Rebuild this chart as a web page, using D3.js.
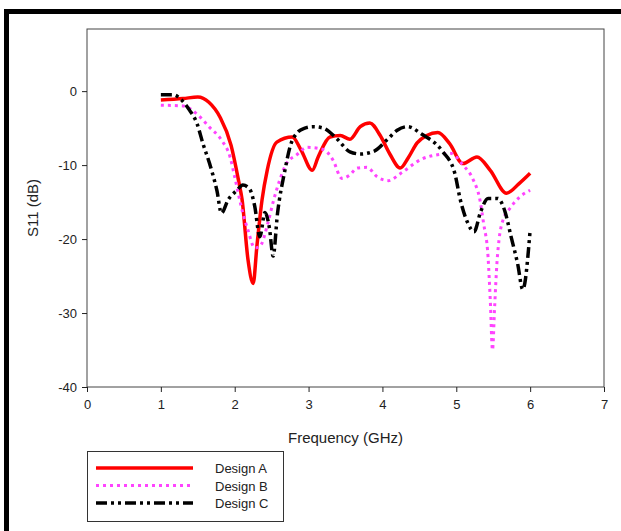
<!DOCTYPE html>
<html lang="en">
<head>
  <meta charset="UTF-8">
  <script src="https://cdn.jsdelivr.net/npm/d3@7"></script>
  <title>S11</title>
  <style>
    body { margin: 0; background: #fff; }
    text { font-family: "Liberation Sans", Arial, sans-serif; fill: #222; }
    path.series { fill: none; }
  </style>
</head>
<body>
  <script>
    // frequency (GHz) and S11 (dB)
    const freqA = [1.0, 1.3, 1.5, 1.65, 1.8, 1.95, 2.05, 2.1, 2.18, 2.25, 2.3, 2.37, 2.44, 2.57, 2.78, 2.9, 3.05, 3.13, 3.29, 3.43, 3.56, 3.7, 3.83, 3.97, 4.1, 4.24, 4.35, 4.47, 4.6, 4.75, 4.91, 5.09, 5.28, 5.46, 5.68, 5.85, 6.0];
    const s11A = [-1.2, -1.0, -0.8, -1.5, -3.5, -7.3, -12, -14.7, -22.8, -26, -21, -14.7, -10.7, -6.9, -6.2, -8, -10.7, -8.9, -6.2, -6.0, -6.5, -4.8, -4.3, -6.0, -8.5, -10.4, -9, -7.0, -6, -5.6, -7.1, -9.8, -8.9, -10.7, -13.8, -12.5, -11.1];

    const freqB = [1.0, 1.3, 1.5, 1.66, 1.82, 1.94, 2.0, 2.11, 2.18, 2.27, 2.34, 2.45, 2.52, 2.61, 2.7, 2.84, 2.98, 3.2, 3.33, 3.45, 3.55, 3.66, 3.79, 3.93, 4.08, 4.25, 4.53, 4.81, 4.92, 5.09, 5.23, 5.32, 5.37, 5.43, 5.46, 5.49, 5.52, 5.55, 5.58, 5.63, 5.73, 5.86, 6.0];
    const s11B = [-1.9, -2.0, -3.2, -4.9, -6.6, -9.0, -11.6, -16.5, -18.8, -21.2, -21, -17.8, -15, -12, -9.8, -8.6, -7.6, -7.9, -9.3, -11.8, -11.4, -10.4, -10.3, -11.6, -12.1, -11.1, -9.2, -8.5, -8.4, -10, -12, -14.7, -17.9, -22.4, -28.2, -35, -29, -23.3, -20, -17.5, -15.8, -14.3, -13.4];

    const freqC = [1.0, 1.17, 1.28, 1.39, 1.49, 1.57, 1.66, 1.76, 1.82, 1.91, 2.03, 2.11, 2.2, 2.27, 2.34, 2.41, 2.47, 2.52, 2.58, 2.68, 2.75, 2.84, 2.95, 3.06, 3.2, 3.38, 3.56, 3.7, 3.89, 4.07, 4.2, 4.34, 4.53, 4.81, 4.98, 5.05, 5.15, 5.24, 5.33, 5.43, 5.56, 5.66, 5.74, 5.83, 5.9, 6.0];
    const s11C = [-0.5, -0.5, -1.2, -2.6, -4.4, -7.1, -9.8, -13.5, -16.5, -14.7, -13.4, -12.7, -13.2, -15.5, -19.7, -16.4, -18.5, -22.3, -16.5, -10.7, -7.5, -5.7, -5.0, -4.8, -5.0, -6.4, -8.2, -8.5, -8.1, -6.5, -5.3, -4.8, -5.8, -8.1, -11.1, -14.5, -17.7, -19, -16.3, -14.5, -14.5, -16.3, -19.6, -23.3, -26.8, -18.8];

    const xTicks = [0, 1, 2, 3, 4, 5, 6, 7];
    const yTicks = [0, -10, -20, -30, -40];
    const seriesNames = ["Design A", "Design B", "Design C"];

    const width = 621, height = 531;
    const plotLeft = 87, plotRight = 604, plotTop = 29, plotBottom = 387;

    const x = d3.scaleLinear().domain([0, 7]).range([plotLeft, plotRight]);
    const y = d3.scaleLinear().domain([-40, 8.4]).range([plotBottom, plotTop]);

    const styles = [
      { color: "#ff0000", width: 3.5, dash: null },
      { color: "#ff44ff", width: 3, dash: "3,4" },
      { color: "#000000", width: 3.5, dash: "11,4,3,4,3,4" }
    ];
    const series = [
      d3.zip(freqA, s11A),
      d3.zip(freqB, s11B),
      d3.zip(freqC, s11C)
    ];

    const svg = d3.select("body").append("svg")
      .attr("width", width).attr("height", height);

    // outer frame (only top and left edges are in view)
    svg.append("path")
      .attr("d", `M6.5,${height} V11.5 H${width}`)
      .attr("fill", "none").attr("stroke", "#000").attr("stroke-width", 5);

    // plot frame
    svg.append("rect")
      .attr("x", plotLeft).attr("y", plotTop)
      .attr("width", plotRight - plotLeft).attr("height", plotBottom - plotTop)
      .attr("fill", "none").attr("stroke", "#444").attr("stroke-width", 1);

    const fmt = d => String(d); // plain hyphen minus, no decimals
    const xAxis = svg.append("g")
      .attr("transform", `translate(0,${plotBottom})`)
      .call(d3.axisBottom(x).tickValues(xTicks).tickFormat(fmt).tickSize(5).tickPadding(8));
    const yAxis = svg.append("g")
      .attr("transform", `translate(${plotLeft},0)`)
      .call(d3.axisLeft(y).tickValues(yTicks).tickFormat(fmt).tickSize(5).tickPadding(5));
    [xAxis, yAxis].forEach(a => {
      a.select(".domain").remove();
      a.selectAll(".tick line").attr("stroke", "#222");
      a.selectAll(".tick text").style("font-size", "13px").attr("fill", "#222");
    });

    svg.append("text")
      .attr("x", (plotLeft + plotRight) / 2).attr("y", 443)
      .attr("text-anchor", "middle").style("font-size", "15px")
      .text("Frequency (GHz)");
    svg.append("text")
      .attr("transform", `translate(38,${(plotTop + plotBottom) / 2}) rotate(-90)`)
      .attr("text-anchor", "middle").style("font-size", "15px")
      .text("S11 (dB)");

    const line = d3.line()
      .x(d => x(d[0]))
      .y(d => y(d[1]))
      .curve(d3.curveMonotoneX);

    svg.append("g").selectAll("path")
      .data(series)
      .join("path")
      .attr("class", "series")
      .attr("d", line)
      .attr("stroke", (d, i) => styles[i].color)
      .attr("stroke-width", (d, i) => styles[i].width)
      .attr("stroke-dasharray", (d, i) => styles[i].dash)
      .attr("stroke-linejoin", "round");

    // legend
    const legend = svg.append("g");
    legend.append("rect")
      .attr("x", 87.5).attr("y", 451.5).attr("width", 196).attr("height", 70)
      .attr("fill", "#fff").attr("stroke", "#333");
    const rows = legend.selectAll("g.row")
      .data(seriesNames)
      .join("g")
      .attr("class", "row")
      .attr("transform", (d, i) => `translate(0,${468 + i * 17.5})`);
    rows.append("line")
      .attr("x1", 96).attr("x2", 193)
      .attr("stroke", (d, i) => styles[i].color)
      .attr("stroke-width", (d, i) => styles[i].width)
      .attr("stroke-dasharray", (d, i) => styles[i].dash);
    rows.append("text")
      .attr("x", 215).attr("y", 5)
      .style("font-size", "13px")
      .text(d => d);
  </script>
</body>
</html>
